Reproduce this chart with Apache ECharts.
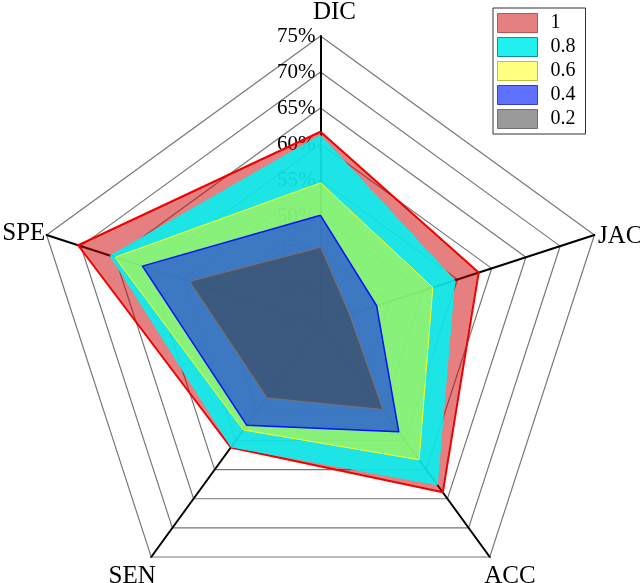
<!DOCTYPE html>
<html>
<head>
<meta charset="utf-8">
<script src="https://cdn.jsdelivr.net/npm/echarts@6/dist/echarts.min.js"></script>
<style>html,body{margin:0;padding:0;background:#fff}#c{width:640px;height:583px}</style>
</head>
<body>
<div id="c"></div>
<script>
// Indicators in ECharts order (counter-clockwise from top)
const indicatorNames = ['DIC', 'SPE', 'SEN', 'ACC', 'JAC'];
const axisMin = 35;
const axisMax = 75;
const seriesNames = ['1', '0.8', '0.6', '0.4', '0.2'];
// values per series, order: DIC, SPE, SEN, ACC, JAC (%)
const s1  = [61.7, 70.4, 56.2, 63.9, 58.1];
const s08 = [61.2, 65.7, 56.1, 62.6, 54.6];
const s06 = [54.6, 65.0, 53.2, 58.3, 51.4];
const s04 = [50.1, 61.0, 52.4, 53.5, 43.2];
const s02 = [45.6, 54.0, 47.6, 49.6, 39.2];
const allValues = [s1, s08, s06, s04, s02];

const fills = ['rgba(205,0,0,0.5)', 'rgba(0,245,245,0.87)', 'rgba(255,255,0,0.47)', 'rgba(0,20,255,0.55)', 'rgba(59,59,59,0.5)'];
const lines = ['#ff0000', '#10e8e8', '#ffff20', '#0010ff', '#6c7488'];
const lineWidths = [2, 1, 1, 1.5, 2];
const legendFill = ['#e48080', '#20f0f0', '#ffff80', '#6070ff', '#9a9a9a'];
const legendBorder = ['#c05050', '#109090', '#c0c040', '#3040c0', '#707070'];

const serif = 'Liberation Serif';
const nameGap = 24;
// per-name text style tweaks to fine-tune placement
const nameStyles = [
  {padding: [0, 0, 0, 28]},
  {verticalAlign: 'top', lineHeight: 12},
  {padding: [0, 10, 0, 0]},
  {padding: [0, 0, 0, 12]},
  {verticalAlign: 'top', lineHeight: 17, padding: [0, 0, 0, 6]}
];

const chart = echarts.init(document.getElementById('c'), null, {renderer: 'canvas'});
chart.setOption({
  backgroundColor: '#fff',
  animation: false,
  legend: {
    orient: 'vertical',
    left: 493, top: 8,
    itemWidth: 40, itemHeight: 19, itemGap: 4,
    padding: [5, 10, 5, 4],
    borderColor: '#333', borderWidth: 1,
    icon: 'rect',
    textStyle: {fontFamily: serif, fontSize: 20, color: '#000', padding: [0, 0, 0, 8]},
    data: seriesNames.map((n, i) => ({name: n, itemStyle: {color: legendFill[i], borderColor: legendBorder[i], borderWidth: 1}}))
  },
  radar: {
    z: 1,
    center: [320.5, 324],
    radius: 288,
    startAngle: 90,
    splitNumber: 8,
    shape: 'polygon',
    axisName: {color: '#000', fontFamily: serif, fontSize: 25, align: 'center', verticalAlign: 'middle'},
    axisLine: {lineStyle: {color: '#000', width: 2}},
    splitLine: {lineStyle: {color: '#777', width: 1.2}},
    splitArea: {show: false},
    axisTick: {show: false},
    axisLabel: {show: false},
    indicator: indicatorNames.map((n, i) => {
      const ind = {name: n, min: axisMin, max: axisMax, nameGap: nameGap,
        nameTextStyle: nameStyles[i]};
      if (i === 0) {
        ind.axisLabel = {show: true, color: '#000', fontFamily: serif, fontSize: 21, margin: 5, formatter: v => v + '%'};
      }
      return ind;
    })
  },
  series: allValues.map((vals, i) => ({
    type: 'radar',
    name: seriesNames[i],
    z: 2 + i,
    symbol: 'none',
    lineStyle: {color: lines[i], width: lineWidths[i]},
    areaStyle: {color: fills[i], opacity: 1},
    itemStyle: {color: legendFill[i]},
    data: [{value: vals, name: seriesNames[i]}]
  }))
});
</script>
</body>
</html>
